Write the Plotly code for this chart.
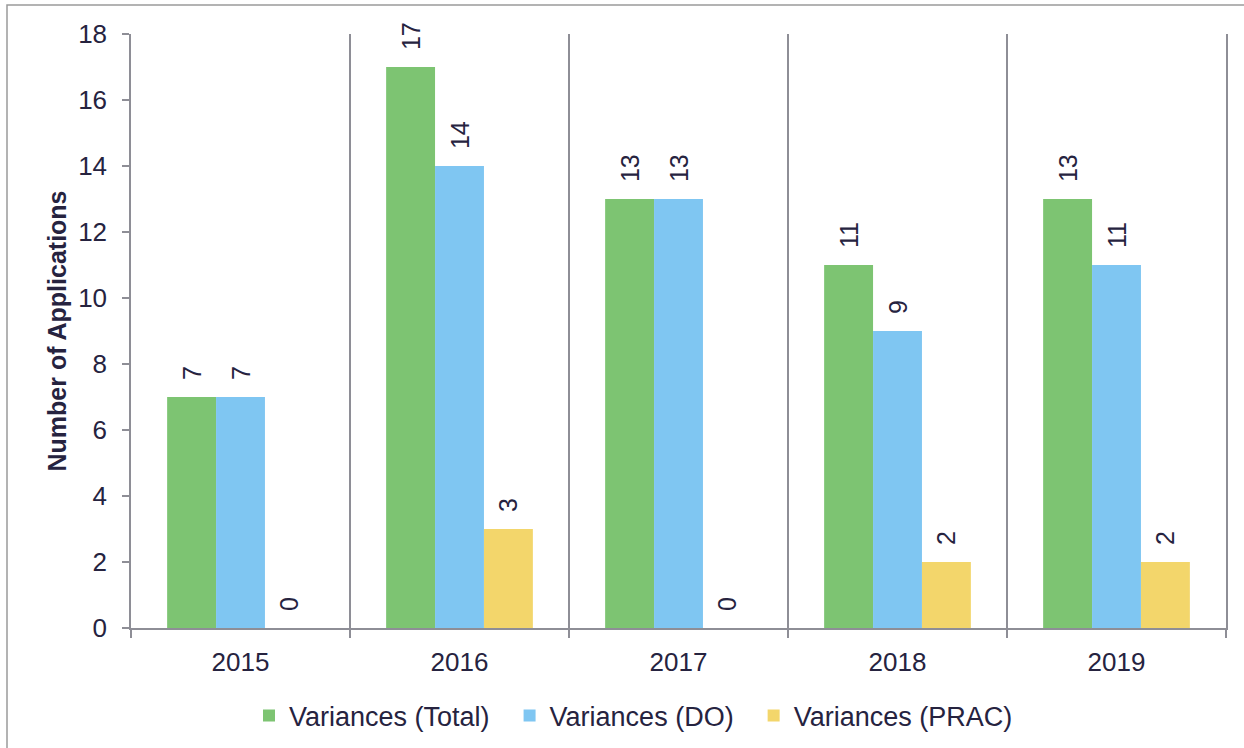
import plotly.graph_objects as go

# Applications per year, by variance type
years = ["2015", "2016", "2017", "2018", "2019"]
variances_total = [7, 17, 13, 11, 13]
variances_do = [7, 14, 13, 9, 11]
variances_prac = [0, 3, 0, 2, 2]

series_names = ["Variances (Total)", "Variances (DO)", "Variances (PRAC)"]
series_colors = ["#7DC472", "#7FC6F2", "#F3D66B"]

y_ticks = [0, 2, 4, 6, 8, 10, 12, 14, 16, 18]

TEXT = "#26233F"
GRID = "#8E8E96"
FONT = "Liberation Sans, Arial, sans-serif"

W, H = 1244, 748
M_L, M_R, M_T, M_B = 131, 18, 34, 120
PW = W - M_L - M_R
PH = H - M_T - M_B

pad = "\u00a0\u00a0"
# a little extra room after each legend entry
legend_tail = "\u00a0\u00a0"

fig = go.Figure()
for name, vals, col in zip(series_names,
                           [variances_total, variances_do, variances_prac],
                           series_colors):
    fig.add_trace(go.Bar(
        x=years, y=vals, name=name + legend_tail,
        marker=dict(color=col, line=dict(width=0)),
        text=[pad + str(v) for v in vals],
        textposition="outside",
        textangle=-90,
        outsidetextfont=dict(family=FONT, size=25, color=TEXT),
        cliponaxis=False,
        constraintext="none",
    ))

# outer chart border (top and left edges visible)
fig.add_shape(type="rect", xref="paper", yref="paper",
              x0=(7 - M_L) / PW, x1=(W + 20 - M_L) / PW,
              y0=-(H + 20 - M_T - PH) / PH, y1=1 + (M_T - 5) / PH,
              line=dict(color="#9A9A9A", width=1.5), layer="below")

fig.update_layout(
    width=W, height=H,
    margin=dict(l=M_L, r=M_R, t=M_T, b=M_B, autoexpand=False),
    paper_bgcolor="white", plot_bgcolor="white",
    barmode="group", bargap=0.33, bargroupgap=0,
    font=dict(family=FONT, size=26, color=TEXT),
    showlegend=True,
    legend=dict(orientation="h", x=(249 - M_L) / PW, xanchor="left",
                y=-0.148, yanchor="middle",
                font=dict(family=FONT, size=27, color=TEXT), traceorder="normal"),
    xaxis=dict(
        type="category", tickson="boundaries", automargin=False,
        showgrid=True, gridcolor=GRID, gridwidth=1.5,
        showline=True, linecolor=GRID, linewidth=1.5,
        ticks="outside", ticklen=8, tickcolor=GRID, tickwidth=1.5,
        tickfont=dict(family=FONT, size=26, color=TEXT),
        ticklabelstandoff=10,
    ),
    yaxis=dict(
        range=[0, 18], tickvals=y_ticks, automargin=False,
        showgrid=False, zeroline=False,
        showline=True, linecolor=GRID, linewidth=1.5, mirror=True,
        ticks="outside", ticklen=7, tickcolor=GRID, tickwidth=1.5,
        tickfont=dict(family=FONT, size=26, color=TEXT),
        ticklabelstandoff=10,
        title=dict(text="<b>Number of Applications</b>", standoff=4,
                   font=dict(family=FONT, size=25, color=TEXT)),
    ),
)

fig.write_html("out.html")
